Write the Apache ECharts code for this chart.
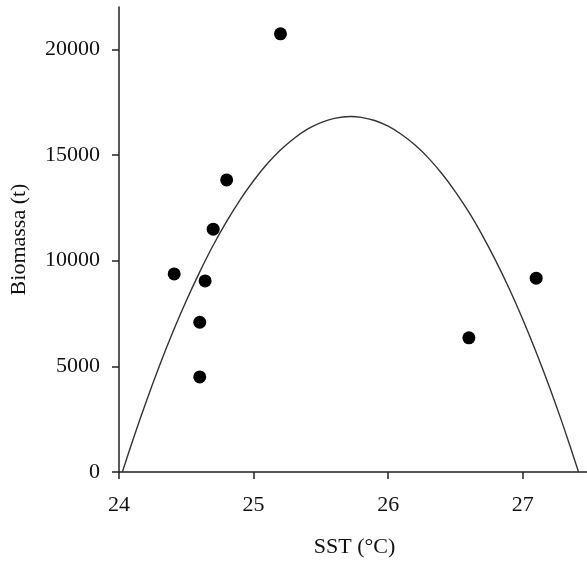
<!DOCTYPE html>
<html>
<head>
<meta charset="utf-8">
<script src="https://cdn.jsdelivr.net/npm/echarts@6/dist/echarts.min.js"></script>
<style>
html,body{margin:0;padding:0;background:#fff;overflow:hidden;}
#chart{width:590px;height:563px;}
</style>
</head>
<body>
<div id="chart"></div>
<script>
// Observed points: SST (°C) and biomass (t)
const sst = [25.20, 24.80, 24.70, 24.41, 24.64, 24.60, 24.60, 27.10, 26.60];
const biomassa = [20730, 13820, 11490, 9370, 9040, 7085, 4500, 9170, 6350];

// Fitted curve, points
const curveX = [24.025, 24.1, 24.2, 24.3, 24.4, 24.5, 24.6, 24.7, 24.8, 24.9, 25.0, 25.1, 25.2, 25.3, 25.4, 25.5, 25.6, 25.72, 25.8, 25.9, 26.0, 26.1, 26.2, 26.3, 26.4, 26.5, 26.6, 26.7, 26.8, 26.9, 27.0, 27.1, 27.2, 27.3, 27.415];
const curveY = [0, 1455, 3290, 5015, 6620, 8100, 9470, 10730, 11860, 12880, 13780, 14570, 15230, 15780, 16220, 16530, 16730, 16817, 16780, 16630, 16360, 15970, 15470, 14850, 14110, 13255, 12290, 11195, 9990, 8670, 7230, 5670, 4000, 2205, 0];

// Axis ticks
const xTicks = [24, 25, 26, 27];
const yTicks = [0, 5000, 10000, 15000, 20000];

const chart = echarts.init(document.getElementById('chart'));
const font = 'Liberation Serif';
const axisColor = '#222';
const fs = 22;

chart.setOption({
  animation: false,
  backgroundColor: '#fff',
  grid: { left: 118, top: 7, bottom: 88, right: 0, containLabel: false },
  xAxis: {
    type: 'value',
    min: 24, max: 27.5, interval: 1,
    name: 'SST (°C)',
    nameLocation: 'middle',
    nameGap: 64,
    nameTextStyle: { fontFamily: font, fontSize: fs, color: '#111' },
    axisLine: { show: true, onZero: false, lineStyle: { color: axisColor, width: 1.5 } },
    axisTick: { show: true, inside: false, length: 7, lineStyle: { color: axisColor, width: 1.5 } },
    axisLabel: { fontFamily: font, fontSize: fs, color: '#111', margin: 22,
      showMaxLabel: false,
      formatter: v => (xTicks.indexOf(v) >= 0 ? String(v) : '') },
    splitLine: { show: false }
  },
  yAxis: {
    type: 'value',
    min: 0, max: 22000, interval: 5000,
    name: 'Biomassa (t)',
    nameLocation: 'middle',
    nameGap: 89,
    nameRotate: 90,
    nameTextStyle: { fontFamily: font, fontSize: fs, color: '#111' },
    axisLine: { show: true, lineStyle: { color: axisColor, width: 1.5 } },
    axisTick: { show: true, length: 7, lineStyle: { color: axisColor, width: 1.5 },
      customValues: yTicks },
    axisLabel: { fontFamily: font, fontSize: fs, color: '#111', margin: 19,
      customValues: yTicks, formatter: v => String(v) },
    splitLine: { show: false }
  },
  series: [
    {
      type: 'line',
      data: curveX.map((x, i) => [x, curveY[i]]),
      smooth: 0.3,
      showSymbol: false,
      lineStyle: { color: '#333', width: 1.4 },
      z: 2
    },
    {
      type: 'scatter',
      data: sst.map((x, i) => [x, biomassa[i]]),
      symbol: 'circle',
      symbolSize: 13,
      itemStyle: { color: '#000', opacity: 1 },
      z: 3
    }
  ]
});
</script>
</body>
</html>
